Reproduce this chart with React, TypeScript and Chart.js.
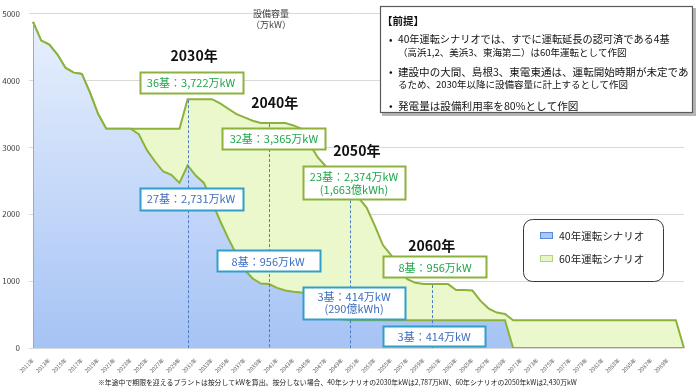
import React, { useEffect, useRef } from 'react';
import { Chart, registerables } from 'chart.js';

Chart.register(...registerables);

const FONT = "'Noto Sans CJK JP', 'Noto Sans', sans-serif";

// Categories (one per year)
const years: string[] = [
  '2011年', '2012年', '2013年', '2014年', '2015年', '2016年', '2017年', '2018年', '2019年', '2020年',
  '2021年', '2022年', '2023年', '2024年', '2025年', '2026年', '2027年', '2028年', '2029年', '2030年',
  '2031年', '2032年', '2033年', '2034年', '2035年', '2036年', '2037年', '2038年', '2039年', '2040年',
  '2041年', '2042年', '2043年', '2044年', '2045年', '2046年', '2047年', '2048年', '2049年', '2050年',
  '2051年', '2052年', '2053年', '2054年', '2055年', '2056年', '2057年', '2058年', '2059年', '2060年',
  '2061年', '2062年', '2063年', '2064年', '2065年', '2066年', '2067年', '2068年', '2069年', '2070年',
  '2071年', '2072年', '2073年', '2074年', '2075年', '2076年', '2077年', '2078年', '2079年', '2080年',
  '2081年', '2082年', '2083年', '2084年', '2085年', '2086年', '2087年', '2088年', '2089年', '2090年',
  '2091年',
];

// 40年運転シナリオ (万kW)
const scenario40: number[] = [
  4880, 4600, 4540, 4390, 4190, 4120, 4100, 3820, 3500, 3280,
  3280, 3280, 3280, 3200, 2960, 2790, 2640, 2590, 2470, 2731,
  2580, 2470, 2190, 1900, 1640, 1400, 1170, 1040, 965, 956,
  900, 860, 842, 830, 800, 700, 600, 500, 430, 414,
  414, 414, 414, 414, 414, 414, 414, 414, 414, 414,
  414, 414, 414, 414, 414, 414, 414, 414, 414, 0,
  0, 0, 0, 0, 0, 0, 0, 0, 0, 0,
  0, 0, 0, 0, 0, 0, 0, 0, 0, 0,
  0,
];

// 60年運転シナリオ (万kW)
const scenario60: number[] = [
  4880, 4600, 4540, 4390, 4190, 4120, 4100, 3820, 3500, 3280,
  3280, 3280, 3280, 3280, 3280, 3280, 3280, 3280, 3280, 3722,
  3722, 3722, 3722, 3660, 3580, 3500, 3450, 3400, 3365, 3365,
  3365, 3365, 3330, 3280, 3050, 2850, 2715, 2600, 2480, 2374,
  2250, 2100, 1830, 1540, 1390, 1200, 1030, 975, 956, 956,
  956, 956, 867, 867, 860, 705, 590, 530, 510, 414,
  414, 414, 414, 414, 414, 414, 414, 414, 414, 414,
  414, 414, 414, 414, 414, 414, 414, 414, 414, 414,
  0,
];

const yTicks: number[] = [0, 1000, 2000, 3000, 4000, 5000];

// Milestone years with dashed guide lines
const milestoneYears: number[] = [2030, 2040, 2050, 2060];
const milestoneTitles: string[] = ['2030年', '2040年', '2050年', '2060年'];

// Callout texts
const calloutsGreen: string[][] = [
  ['36基：3,722万kW'],
  ['32基：3,365万kW'],
  ['23基：2,374万kW', '(1,663億kWh)'],
  ['8基：956万kW'],
];
const calloutsBlue: string[][] = [
  ['27基：2,731万kW'],
  ['8基：956万kW'],
  ['3基：414万kW', '(290億kWh)'],
  ['3基：414万kW'],
];

const legendLabels: string[] = ['40年運転シナリオ', '60年運転シナリオ'];
const premiseTitle = '【前提】';
const premiseItems: string[][] = [
  ['40年運転シナリオでは、すでに運転延長の認可済である4基', '（高浜1,2、美浜3、東海第二）は60年運転として作図'],
  ['建設中の大間、島根3、東電東通は、運転開始時期が未定であ', 'るため、2030年以降に設備容量に計上するとして作図'],
  ['発電量は設備利用率を80%として作図'],
];
const axisTitle: string[] = ['設備容量', '（万kW）'];
const footnote =
  '※年途中で期限を迎えるプラントは按分してkWを算出。按分しない場合、40年シナリオの2030年kWは2,787万kW、60年シナリオの2050年kWは2,430万kW';

// Layout of annotations (data-space anchors: year, value) — not data
const titleAnchors = [
  { yr: 2030.8, v: 4379 },
  { yr: 2040.7, v: 3669 },
  { yr: 2050.8, v: 2959 },
  { yr: 2060.0, v: 1524 },
];
const greenAnchors = [
  { yr: 2030.42, v: 3979, w: 103, h: 21 },
  { yr: 2040.6, v: 3136, w: 103, h: 21 },
  { yr: 2050.45, v: 2470, w: 102, h: 33 },
  { yr: 2060.4, v: 1213, w: 103, h: 21 },
];
const blueAnchors = [
  { yr: 2030.42, v: 2234, w: 103, h: 22 },
  { yr: 2039.9, v: 1302, w: 103, h: 21 },
  { yr: 2050.45, v: 680, w: 102, h: 32 },
  { yr: 2060.3, v: 178, w: 102, h: 20 },
];

const GREEN_LINE = '#8cb23c';
const GREEN_FILL = '#eaf8cb';
const GREEN_TEXT = '#1fa64a';
const BLUE_TEXT = '#3f6fbf';
const BLUE_BORDER = '#2fa0c9';

function fitFontSize(ctx: CanvasRenderingContext2D, text: string, weight: string, target: number, min: number, max: number) {
  ctx.font = `${weight} 10px ${FONT}`;
  const w = ctx.measureText(text).width;
  const s = (10 * target) / w;
  return Math.max(min, Math.min(max, s));
}

const overlayPlugin = {
  id: 'overlay',
  afterDatasetsDraw(chart: any) {
    const { ctx, scales } = chart;
    const x = scales.x;
    const y = scales.y;
    const base = y.getPixelForValue(0);
    ctx.save();
    // left edge of blue area
    ctx.strokeStyle = '#8eabdf';
    ctx.lineWidth = 1;
    ctx.beginPath();
    const lx = x.getPixelForValue(0) + 0.5;
    ctx.moveTo(lx, y.getPixelForValue(scenario40[0]) + 2);
    ctx.lineTo(lx, base);
    ctx.stroke();
    // dashed guides
    ctx.strokeStyle = '#4a7cc4';
    ctx.lineWidth = 1;
    ctx.setLineDash([3, 2]);
    milestoneYears.forEach((yr) => {
      const i = years.indexOf(`${yr}年`);
      const px = Math.round(x.getPixelForValue(i)) + 0.5;
      ctx.beginPath();
      ctx.moveTo(px, y.getPixelForValue(scenario60[i]) + 1);
      ctx.lineTo(px, base);
      ctx.stroke();
    });
    ctx.restore();
  },
  afterDraw(chart: any) {
    const { ctx, scales } = chart;
    const x = scales.x;
    const y = scales.y;
    const px = (yr: number) => x.getPixelForValue(yr - 2011);
    const py = (v: number) => y.getPixelForValue(v);
    ctx.save();
    ctx.textBaseline = 'middle';

    // milestone titles
    ctx.fillStyle = '#111';
    ctx.textAlign = 'center';
    ctx.font = `bold 14px ${FONT}`;
    milestoneTitles.forEach((t, i) => {
      ctx.fillText(t, px(titleAnchors[i].yr), py(titleAnchors[i].v));
    });

    const drawBox = (lines: string[], a: any, border: string, color: string) => {
      const cx = px(a.yr);
      const cy = py(a.v);
      const l = Math.round(cx - a.w / 2) + 0.5;
      const t = Math.round(cy - a.h / 2) + 0.5;
      ctx.fillStyle = '#ffffff';
      ctx.fillRect(l, t, a.w, a.h);
      ctx.strokeStyle = border;
      ctx.lineWidth = 2;
      ctx.strokeRect(l, t, a.w, a.h);
      ctx.fillStyle = color;
      ctx.textAlign = 'center';
      ctx.font = `11px ${FONT}`;
      const lh = 12.5;
      lines.forEach((s, k) => {
        ctx.fillText(s, cx, cy + (k - (lines.length - 1) / 2) * lh + 0.5);
      });
    };
    calloutsGreen.forEach((lines, i) => drawBox(lines, greenAnchors[i], GREEN_LINE, GREEN_TEXT));
    calloutsBlue.forEach((lines, i) => drawBox(lines, blueAnchors[i], BLUE_BORDER, BLUE_TEXT));

    // axis title
    ctx.fillStyle = '#404040';
    ctx.textAlign = 'center';
    ctx.font = `9px ${FONT}`;
    ctx.fillText(axisTitle[0], 271, 13.5);
    ctx.fillText(axisTitle[1], 271, 24.5);

    // legend
    ctx.beginPath();
    ctx.roundRect(523.5, 219.5, 140, 62, 9);
    ctx.fillStyle = '#ffffff';
    ctx.fill();
    ctx.strokeStyle = '#3a3a3a';
    ctx.lineWidth = 1;
    ctx.stroke();
    const sw = [
      { fill: '#abc8f4', stroke: '#5b8ad6', y: 232.5 },
      { fill: '#e6f6c6', stroke: '#b4d47c', y: 255.5 },
    ];
    sw.forEach((s, i) => {
      ctx.fillStyle = s.fill;
      ctx.fillRect(540.5, s.y, 12, 6);
      ctx.strokeStyle = s.stroke;
      ctx.strokeRect(540.5, s.y, 12, 6);
      ctx.fillStyle = '#222';
      ctx.textAlign = 'left';
      ctx.font = `10.5px ${FONT}`;
      ctx.fillText(legendLabels[i], 559, s.y + 3.5);
    });

    // premise box
    ctx.fillStyle = '#b5b5b5';
    ctx.fillRect(382, 8, 314, 108);
    ctx.fillStyle = '#ffffff';
    ctx.fillRect(380, 6, 313, 107);
    ctx.strokeStyle = '#5a5a5a';
    ctx.lineWidth = 1.2;
    ctx.strokeRect(380.5, 6.5, 312, 106);
    ctx.fillStyle = '#111';
    ctx.textAlign = 'left';
    ctx.font = `bold 10.5px ${FONT}`;
    ctx.fillText(premiseTitle, 382, 20.7);
    const rows = [
      { y: 39.3, bullet: true, text: premiseItems[0][0], w: 272 },
      { y: 52.7, bullet: false, text: premiseItems[0][1], w: 200 },
      { y: 71.7, bullet: true, text: premiseItems[1][0], w: 291 },
      { y: 84.3, bullet: false, text: premiseItems[1][1], w: 210 },
      { y: 106, bullet: true, text: premiseItems[2][0], w: 181 },
    ];
    rows.forEach((r) => {
      const fs = fitFontSize(ctx, r.text, 'normal', r.w, 9.5, 10.6);
      ctx.font = `${fs}px ${FONT}`;
      ctx.fillStyle = '#111';
      if (r.bullet) ctx.fillText('•', 389, r.y);
      ctx.fillText(r.text, 398, r.y);
    });

    // footnote
    const fs = fitFontSize(ctx, footnote, 'normal', 480, 6.5, 8.5);
    ctx.font = `${fs}px ${FONT}`;
    ctx.fillStyle = '#222';
    ctx.textAlign = 'left';
    ctx.fillText(footnote, 98, 382);

    ctx.restore();
  },
};

export default function App() {
  const ref = useRef<HTMLCanvasElement | null>(null);
  useEffect(() => {
    if (!ref.current) return;
    const chart = new Chart(ref.current, {
      type: 'line',
      data: {
        labels: years,
        datasets: [
          {
            label: legendLabels[0],
            data: scenario40,
            fill: 'origin',
            borderColor: GREEN_LINE,
            borderWidth: 2,
            pointRadius: 0,
            tension: 0,
            backgroundColor: (c: any) => {
              const area = c.chart.chartArea;
              if (!area) return '#c5d8f8';
              const g = c.chart.ctx.createLinearGradient(0, area.top, 0, area.bottom);
              g.addColorStop(0, '#e9f1fd');
              g.addColorStop(1, '#a6c3f5');
              return g;
            },
          },
          {
            label: legendLabels[1],
            data: scenario60,
            fill: 'origin',
            borderColor: GREEN_LINE,
            borderWidth: 2,
            pointRadius: 0,
            tension: 0,
            backgroundColor: GREEN_FILL,
          },
        ],
      },
      options: {
        responsive: false,
        animation: false,
        layout: { padding: { left: 0, right: 16, top: 10, bottom: 0 } },
        plugins: { legend: { display: false }, tooltip: { enabled: false } },
        scales: {
          x: {
            grid: { display: false },
            border: { display: false },
            ticks: {
              autoSkip: false,
              maxRotation: 45,
              minRotation: 45,
              padding: 1,
              color: '#666',
              font: { size: 5.5, family: FONT },
              callback: (_v: any, i: number) => (i % 2 === 0 && i <= 78 ? years[i] : ''),
            },
            afterFit: (s: any) => {
              s.height = 41;
            },
          },
          y: {
            min: yTicks[0],
            max: yTicks[yTicks.length - 1],
            afterBuildTicks: (s: any) => {
              s.ticks = yTicks.map((v) => ({ value: v }));
            },
            ticks: {
              color: '#404040',
              padding: 9,
              font: { size: 8, family: FONT },
              callback: (v: any) => String(v),
            },
            grid: { color: '#d9d9d9', tickLength: 4, drawTicks: true },
            border: { display: false },
            afterFit: (s: any) => {
              s.width = 33;
            },
          },
        },
      },
      plugins: [overlayPlugin],
    } as any);
    return () => chart.destroy();
  }, []);
  return (
    <div style={{ position: 'fixed', left: 0, top: 0, width: 700, height: 389, background: '#fff' }}>
      <canvas ref={ref} width={700} height={389} style={{ display: 'block' }} />
    </div>
  );
}
